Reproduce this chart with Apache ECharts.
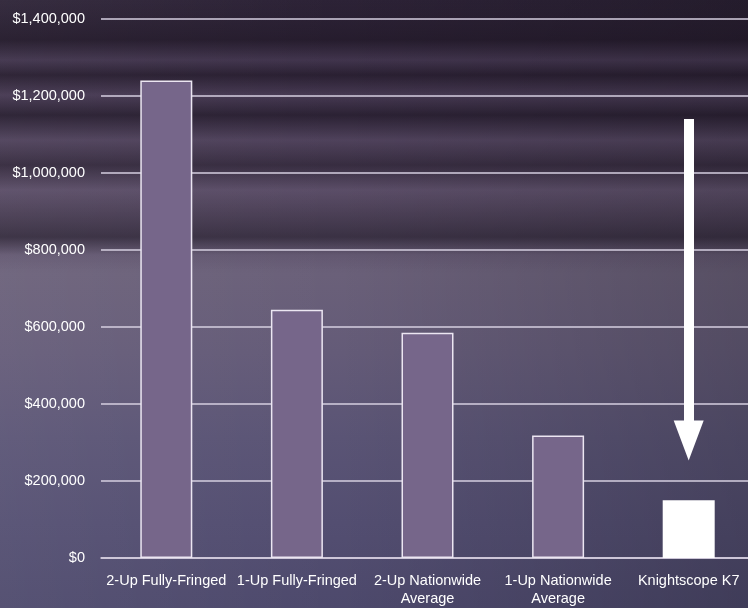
<!DOCTYPE html>
<html><head><meta charset="utf-8">
<script src="https://cdn.jsdelivr.net/npm/echarts@6/dist/echarts.min.js"></script>
<style>
html,body{margin:0;padding:0;}
#bg{position:absolute;left:0;top:0;width:748px;height:608px;
background:
 linear-gradient(180deg, rgba(30,20,35,0.0) 0px, rgba(25,17,30,0.5) 40px, rgba(90,75,105,0.3) 60px, rgba(25,17,30,0.45) 75px, rgba(95,80,110,0.3) 95px, rgba(22,15,28,0.5) 115px, rgba(100,85,115,0.28) 140px, rgba(28,20,34,0.45) 165px, rgba(110,95,125,0.25) 190px, rgba(20,14,26,0.5) 237px, rgba(80,68,95,0.1) 255px, rgba(0,0,0,0) 270px),
 linear-gradient(90deg, rgba(255,255,255,0.05) 0%, rgba(0,0,0,0.0) 45%, rgba(0,0,0,0.18) 100%),
 linear-gradient(180deg, #2c2236 0%, #3a2e45 15%, #5a4d66 35%, #6a6079 45%, #645b78 58%, #5a5475 72%, #534e71 86%, #4d496c 100%);}
#c{position:absolute;left:0;top:0;width:748px;height:608px;}
</style></head>
<body><div id="bg"></div><div id="c"></div>
<script>
const categories = ['2-Up Fully-Fringed', '1-Up Fully-Fringed', '2-Up Nationwide\nAverage', '1-Up Nationwide\nAverage', 'Knightscope K7'];
const costs = [1240000, 645000, 585000, 318000, 150000];
const yTicks = { min: 0, max: 1400000, interval: 200000 };
const arrowFrom = 1140000;
const arrowTo = 305000;

const chart = echarts.init(document.getElementById('c'), null, {renderer:'canvas'});
chart.setOption({
  backgroundColor: 'transparent',
  animation: false,
  grid: { left: 101, width: 653, top: 19, bottom: 50, outerBoundsMode: 'none', containLabel: false },
  xAxis: {
    type: 'category', data: categories,
    axisLine: { show: true, lineStyle: { color: '#d6cfe0', width: 1.5 } },
    axisTick: { show: false },
    axisLabel: { color: '#ffffff', fontFamily: 'Liberation Sans, Arial, sans-serif', fontSize: 14.5, margin: 14, lineHeight: 18, interval: 0, hideOverlap: false }
  },
  yAxis: {
    type: 'value', min: yTicks.min, max: yTicks.max, interval: yTicks.interval,
    axisLine: { show: false }, axisTick: { show: false },
    splitLine: { lineStyle: { color: '#d6cfe0', width: 1.5 } },
    axisLabel: { color: '#ffffff', fontFamily: 'Liberation Sans, Arial, sans-serif', fontSize: 14.5, margin: 16,
      formatter: v => '$' + v.toLocaleString('en-US') }
  },
  series: [{
    type: 'bar', barWidth: 52,
    data: costs.map((v, i) => ({
      value: v,
      itemStyle: i === costs.length - 1
        ? { color: '#ffffff', borderColor: '#ffffff', borderWidth: 0 }
        : { color: '#76668a', borderColor: '#ece6f2', borderWidth: 1.5 }
    })),
    markLine: {
      silent: true,
      symbol: ['none', 'triangle'],
      symbolSize: [30, 40],
      label: { show: false },
      lineStyle: { color: '#ffffff', width: 10, type: 'solid' },
      data: [[ { coord: [categories[4], arrowFrom] }, { coord: [categories[4], arrowTo] } ]]
    }
  }]
});
</script></body></html>
